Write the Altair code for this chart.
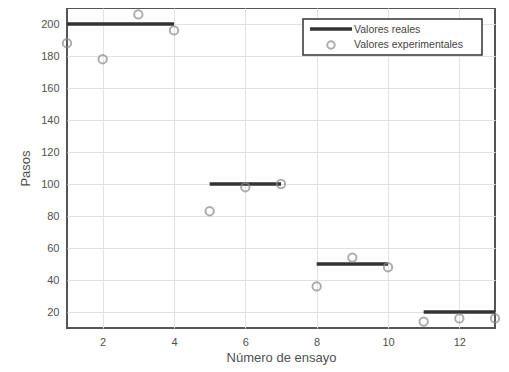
import altair as alt
import pandas as pd

# Data
trial = [1, 2, 3, 4, 5, 6, 7, 8, 9, 10, 11, 12, 13]
experimental = [188, 178, 206, 196, 83, 98, 100, 36, 54, 48, 14, 16, 16]
real_start = [1, 5, 8, 11]
real_end = [4, 7, 10, 13]
real_value = [200, 100, 50, 20]
x_ticks = [2, 4, 6, 8, 10, 12]
y_ticks = [20, 40, 60, 80, 100, 120, 140, 160, 180, 200]

pts = pd.DataFrame({"trial": trial, "value": experimental})
segs = pd.DataFrame({"start": real_start, "end": real_end, "value": real_value})

FONT = "Liberation Sans"
GRAY_TXT = "#505050"

xscale = alt.Scale(domain=[1, 13], nice=False, zero=False)
yscale = alt.Scale(domain=[10, 210], nice=False, zero=False)

xaxis = alt.Axis(values=x_ticks, tickCount=20, format="d", title="Número de ensayo",
                 grid=True, gridColor="#e2e2e2", ticks=False,
                 labelOverlap=False, labelFlush=False,
                 domain=False, labelFontSize=11, labelColor=GRAY_TXT, labelPadding=8,
                 titleFontSize=13, titleColor=GRAY_TXT, titleFontWeight="normal",
                 titlePadding=4, labelFont=FONT, titleFont=FONT)
yaxis = alt.Axis(values=y_ticks, tickCount=20, format="d", title="Pasos",
                 grid=True, gridColor="#e2e2e2", ticks=False,
                 labelOverlap=False, labelFlush=False,
                 domain=False, labelFontSize=11, labelColor=GRAY_TXT, labelPadding=8,
                 titleFontSize=13, titleColor=GRAY_TXT, titleFontWeight="normal",
                 titlePadding=8, labelFont=FONT, titleFont=FONT)

lines = alt.Chart(segs).mark_rule(color="#333333", strokeWidth=3.5).encode(
    x=alt.X("start:Q", scale=xscale, axis=xaxis),
    x2="end:Q",
    y=alt.Y("value:Q", scale=yscale, axis=yaxis),
)

points = alt.Chart(pts).mark_point(shape="circle", filled=False, color="#8a8a8a",
                                   strokeWidth=2, size=70, clip=False).encode(
    x=alt.X("trial:Q", scale=xscale, axis=xaxis),
    y=alt.Y("value:Q", scale=yscale, axis=yaxis),
)

# Legend (manual)
leg_df = pd.DataFrame({"a": [0]})
leg_box = alt.Chart(leg_df).mark_rect(fill="white", stroke="#333333", strokeWidth=1.5).encode(
    x=alt.value(236), x2=alt.value(415), y=alt.value(11), y2=alt.value(47))
leg_line = alt.Chart(leg_df).mark_rule(color="#333333", strokeWidth=3.5).encode(
    x=alt.value(243), x2=alt.value(285), y=alt.value(21))
leg_pt = alt.Chart(leg_df).mark_point(shape="circle", filled=False, color="#8a8a8a",
                                      strokeWidth=2, size=55).encode(
    x=alt.value(264), y=alt.value(37))
leg_t1 = alt.Chart(leg_df).mark_text(text="Valores reales", align="left", baseline="middle",
                                     fontSize=10.5, font=FONT, color="#444444").encode(
    x=alt.value(287), y=alt.value(22))
leg_t2 = alt.Chart(leg_df).mark_text(text="Valores experimentales", align="left", baseline="middle",
                                     fontSize=10.5, font=FONT, color="#444444").encode(
    x=alt.value(287), y=alt.value(37))

chart = alt.layer(lines, points, leg_box, leg_line, leg_pt, leg_t1, leg_t2).properties(
    width=428, height=320,
    autosize=alt.AutoSizeParams(type="none"),
    padding={"left": 59, "top": 0, "right": 6, "bottom": 40},
    background="white",
).configure_view(stroke="#555555", strokeWidth=2)

chart.save("out.html", embed_options={"renderer": "svg", "actions": False})
